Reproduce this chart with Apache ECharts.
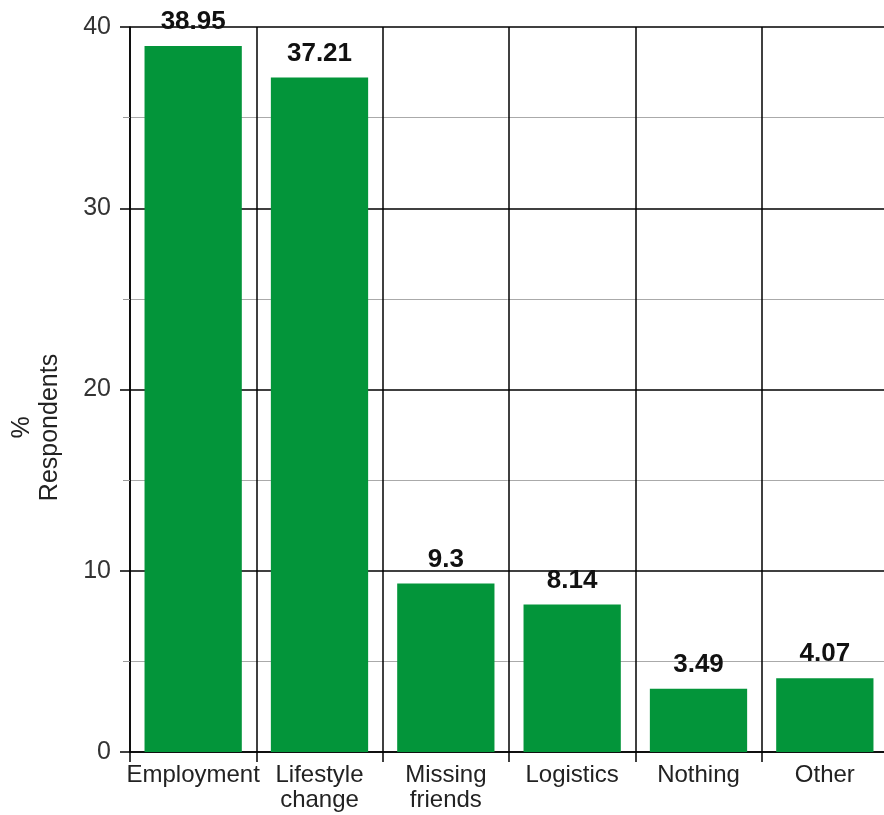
<!DOCTYPE html>
<html lang="en">
<head>
    <meta charset="UTF-8">
    <title>Respondents</title>
    <script src="https://cdn.jsdelivr.net/npm/echarts@6/dist/echarts.min.js"></script>
    <style>
        html, body { margin: 0; padding: 0; background: #fff; }
        #chart { width: 884px; height: 815px; }
    </style>
</head>
<body>
    <div id="chart"></div>
    <script type="text/javascript">
        var categories = ['Employment', 'Lifestyle\nchange', 'Missing\nfriends', 'Logistics', 'Nothing', 'Other'];
        var values = [38.95, 37.21, 9.3, 8.14, 3.49, 4.07];
        var yTicks = [0, 10, 20, 30, 40];

        var font = 'Liberation Sans, Arial, sans-serif';
        var chart = echarts.init(document.getElementById('chart'));

        chart.setOption({
            animation: false,
            grid: { left: 130, right: -4, top: 27, bottom: 63, outerBoundsMode: 'none', containLabel: false },
            xAxis: {
                type: 'category',
                data: categories,
                axisLine: { lineStyle: { color: '#000', width: 1.5 } },
                axisTick: { show: true, length: 10, lineStyle: { color: '#000', width: 1.5 } },
                axisLabel: {
                    color: '#222',
                    fontFamily: font,
                    fontSize: 24,
                    lineHeight: 25,
                    margin: 11,
                    interval: 0
                },
                splitLine: { show: true, lineStyle: { color: '#000', width: 1.5 } }
            },
            yAxis: {
                type: 'value',
                min: yTicks[0],
                max: yTicks[yTicks.length - 1],
                interval: 10,
                name: '%\nRespondents',
                nameLocation: 'middle',
                nameRotate: 90,
                nameGap: 66,
                nameTextStyle: {
                    color: '#222',
                    fontFamily: font,
                    fontSize: 25,
                    lineHeight: 28,
                    padding: [0, 76, 0, 0]
                },
                axisLine: { show: true, lineStyle: { color: '#000', width: 1.5 } },
                axisTick: { show: true, length: 10, lineStyle: { color: '#000', width: 1.5 } },
                minorTick: { show: true, splitNumber: 2, length: 7, lineStyle: { color: '#999' } },
                axisLabel: { color: '#333', fontFamily: font, fontSize: 25, margin: 19 },
                splitLine: { show: true, lineStyle: { color: '#000', width: 1.5 } },
                minorSplitLine: { show: true, lineStyle: { color: '#aaa', width: 1 } }
            },
            series: [{
                type: 'bar',
                data: values,
                barCategoryGap: '23%',
                itemStyle: { color: '#03953a' },
                label: {
                    show: true,
                    position: 'top',
                    distance: 11,
                    color: '#111',
                    fontFamily: font,
                    fontWeight: 'bold',
                    fontSize: 26
                }
            }]
        });
    </script>
</body>
</html>
